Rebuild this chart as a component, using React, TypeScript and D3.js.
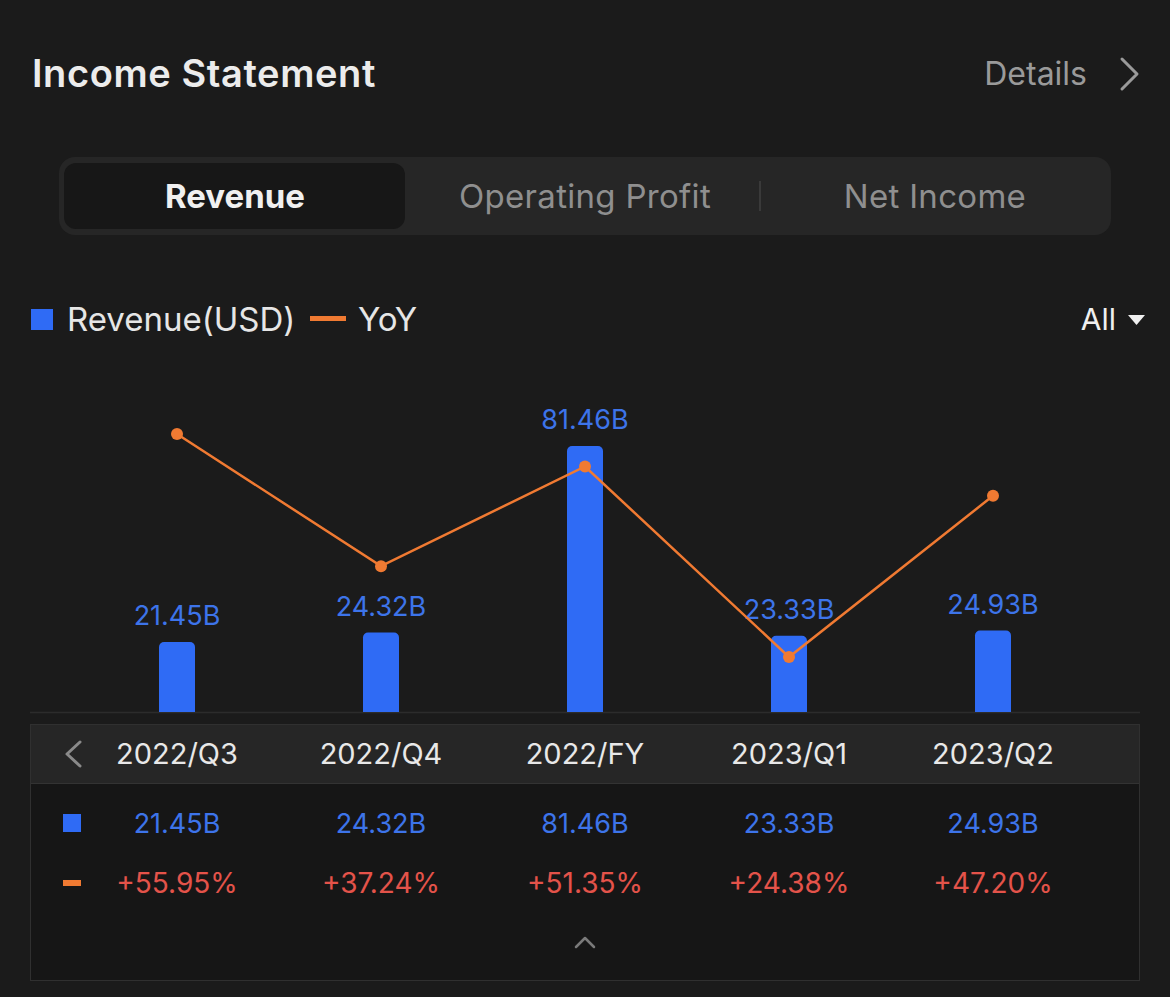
import React from 'react';
import * as d3 from 'd3';

const categories = ['2022/Q3', '2022/Q4', '2022/FY', '2023/Q1', '2023/Q2'];
const revenue = [21.45, 24.32, 81.46, 23.33, 24.93];
const revenueLabels = ['21.45B', '24.32B', '81.46B', '23.33B', '24.93B'];
const yoy = [55.95, 37.24, 51.35, 24.38, 47.2];
const yoyLabels = ['+55.95%', '+37.24%', '+51.35%', '+24.38%', '+47.20%'];
const tabs = ['Revenue', 'Operating Profit', 'Net Income'];

const W = 1170;
const H = 997;
const FONT = 'Inter, "Noto Sans", sans-serif';

const BLUE = '#2f6bf5';
const BLUE_TEXT = '#3d74ea';
const ORANGE = '#f07a32';
const RED = '#e4534a';

// bar with rounded top corners only
const barPath = (x: number, y: number, w: number, h: number, r: number) => {
  const p = d3.path();
  p.moveTo(x, y + h);
  p.lineTo(x, y + r);
  p.arcTo(x, y, x + r, y, r);
  p.lineTo(x + w - r, y);
  p.arcTo(x + w, y, x + w, y + r, r);
  p.lineTo(x + w, y + h);
  p.closePath();
  return p.toString();
};

const App = () => {
  const baseY = 712;
  const x = d3.scaleBand<string>().domain(categories).range([75, 1095]).padding(0);
  const cx = (c: string) => (x(c) as number) + x.bandwidth() / 2;
  const yBar = d3.scaleLinear().domain([0, d3.max(revenue) as number]).range([baseY, 446]);
  const yLine = d3
    .scaleLinear()
    .domain([d3.min(yoy) as number, d3.max(yoy) as number])
    .range([657, 434]);
  const barW = 36;

  const line = d3
    .line<number>()
    .x((d, i) => cx(categories[i]))
    .y((d) => yLine(d))
    .curve(d3.curveLinear);

  const tabCenters = [235, 585, 935];

  return (
    <svg
      width={W}
      height={H}
      style={{ position: 'absolute', left: 0, top: 0, display: 'block' }}
      fontFamily={FONT}
    >
      <rect x={0} y={0} width={W} height={H} fill="#1b1b1b" />

      {/* header */}
      <text x={32} y={87} fill="#ececec" fontSize={38} fontWeight={600} letterSpacing={0.6}>
        Income Statement
      </text>
      <text x={1087} y={85} fill="#9a9a9a" fontSize={32} textAnchor="end">
        Details
      </text>
      <path d="M1122,59 L1137,74 L1122,89" fill="none" stroke="#9a9a9a" strokeWidth={3} strokeLinecap="round" strokeLinejoin="round" />

      {/* tabs */}
      <rect x={59} y={157} width={1052} height={78} rx={16} fill="#262626" />
      <rect x={64} y={163} width={341} height={66} rx={12} fill="#171717" />
      <line x1={760} x2={760} y1={181} y2={211} stroke="#3a3a3a" strokeWidth={2} />
      {tabs.map((t, i) => (
        <text
          key={t}
          x={tabCenters[i]}
          y={208}
          textAnchor="middle"
          fontSize={33}
          letterSpacing={i === 0 ? 0 : 0.3}
          fontWeight={i === 0 ? 700 : 400}
          fill={i === 0 ? '#f0f0f0' : '#8f8f8f'}
        >
          {t}
        </text>
      ))}

      {/* legend */}
      <rect x={31} y={309} width={22} height={21} fill={BLUE} />
      <text x={67} y={331} fill="#e6e6e6" fontSize={33}>
        Revenue(USD)
      </text>
      <rect x={310} y={316} width={36} height={5} fill={ORANGE} />
      <text x={358} y={331} fill="#e6e6e6" fontSize={33}>
        YoY
      </text>
      <text x={1116} y={330} fill="#f0f0f0" fontSize={30} textAnchor="end">
        All
      </text>
      <path d="M1128,315 L1145,315 L1136.5,325 Z" fill="#f0f0f0" />

      {/* chart */}
      <line x1={30} x2={1140} y1={baseY + 0.5} y2={baseY + 0.5} stroke="#2c2c2c" strokeWidth={1.5} />
      {revenue.map((v, i) => {
        const c = cx(categories[i]);
        const top = yBar(v);
        return (
          <g key={categories[i]}>
            <path d={barPath(c - barW / 2, top, barW, baseY - top, 5)} fill={BLUE} />
            <text x={c} y={top - 17} textAnchor="middle" fill={BLUE_TEXT} fontSize={27}>
              {revenueLabels[i]}
            </text>
          </g>
        );
      })}
      <path d={line(yoy) as string} fill="none" stroke={ORANGE} strokeWidth={2.5} />
      {yoy.map((v, i) => (
        <circle key={i} cx={cx(categories[i])} cy={yLine(v)} r={6} fill={ORANGE} />
      ))}

      {/* data table */}
      <rect x={30.5} y={724.5} width={1109} height={256} fill="#161616" stroke="#303030" strokeWidth={1} />
      <rect x={31} y={725} width={1108} height={58} fill="#262626" />
      <line x1={31} x2={1139} y1={783.5} y2={783.5} stroke="#333" strokeWidth={1} />
      <path d="M80,742 L67,754 L80,766" fill="none" stroke="#8a8a8a" strokeWidth={3} strokeLinecap="round" strokeLinejoin="round" />
      {categories.map((c) => (
        <text key={c} x={cx(c)} y={764} textAnchor="middle" fill="#e8e8e8" fontSize={29}>
          {c}
        </text>
      ))}
      <rect x={63} y={814} width={18} height={18} fill={BLUE} />
      {revenueLabels.map((l, i) => (
        <text key={l} x={cx(categories[i])} y={833} textAnchor="middle" fill={BLUE_TEXT} fontSize={27}>
          {l}
        </text>
      ))}
      <rect x={63} y={880} width={18} height={6} fill={ORANGE} />
      {yoyLabels.map((l, i) => (
        <text key={l} x={cx(categories[i])} y={893} textAnchor="middle" fill={RED} fontSize={28}>
          {l}
        </text>
      ))}
      <path d="M576,947 L585,938 L594,947" fill="none" stroke="#7a7a7a" strokeWidth={2.5} strokeLinecap="round" strokeLinejoin="round" />
    </svg>
  );
};

export default App;
